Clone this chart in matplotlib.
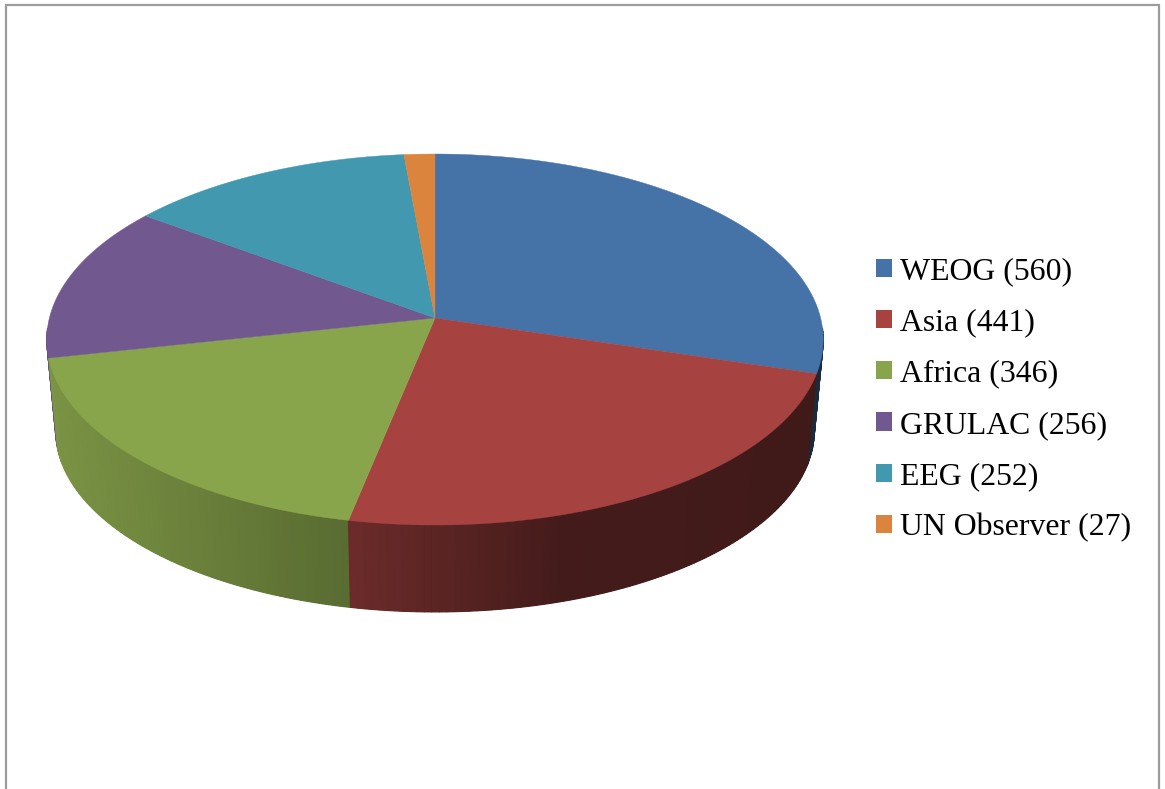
import numpy as np
import matplotlib
matplotlib.use("Agg")
import matplotlib.pyplot as plt
from matplotlib.collections import PolyCollection
from matplotlib.colors import to_rgb
from matplotlib.patches import Patch

categories = ["WEOG", "Asia", "Africa", "GRULAC", "EEG", "UN Observer"]
values = [560, 441, 346, 256, 252, 27]
colors = ["#4572A7", "#A64341", "#89A54C", "#71588F", "#4198AF", "#DB843D"]

# perspective geometry of the pie, in picture pixels
CX, CY, RX, RY, PERSP = 435.0, 318.0, 385.6, 183.0, 0.116
BOTTOM_Y, BOTTOM_SCALE = 409.7, 0.977
# darkening of the rim as a function of horizontal position
SHADE_X = [40, 53, 348, 560, 830]
SHADE_F = [0.90, 0.89, 0.65, 0.41, 0.38]


def project(theta, cy=CY, scale=1.0):
    """theta is clockwise from the top of the disc."""
    u, v = np.sin(theta), np.cos(theta)
    w = 1 + PERSP * v
    return CX + scale * RX * u / w, cy - scale * RY * v / w


fig = plt.figure(figsize=(11.65, 7.89), dpi=100, facecolor="white")
ax = fig.add_axes([0, 0, 1, 1])
ax.set_xlim(0, 1165)
ax.set_ylim(789, 0)
ax.axis("off")

# outer frame (open at the bottom of the picture)
ax.plot([6, 6, 1159, 1159], [789, 5, 5, 789], color="#9c9c9c", lw=1.6,
        solid_joinstyle="miter", zorder=1)

edges = np.cumsum([0] + values) / sum(values) * 2 * np.pi
step = np.radians(1.0)

# rim (front-facing part only): plain underlay per slice, then shaded bands
for i, base in enumerate(colors):
    n = max(int((edges[i + 1] - edges[i]) / step), 2)
    t = np.linspace(edges[i], edges[i + 1], n + 1)
    t = t[np.cos(t) < -0.05]
    if len(t) < 2:
        continue
    n = len(t) - 1
    xt, yt = project(t)
    xb, yb = project(t, BOTTOM_Y, BOTTOM_SCALE)
    depth = np.cos((t[:-1] + t[1:]) / 2)
    quads, cols = [], []
    for j in range(n):
        quads.append([(xt[j], yt[j]), (xt[j + 1], yt[j + 1]),
                      (xb[j + 1], yb[j + 1]), (xb[j], yb[j])])
        f = np.interp((xt[j] + xt[j + 1]) / 2, SHADE_X, SHADE_F)
        cols.append(tuple(c * f for c in to_rgb(base)))
    under = np.array(cols).mean(axis=0)
    ax.fill(np.r_[xt, xb[::-1]], np.r_[yt, yb[::-1]], facecolor=under,
            edgecolor="none", zorder=2 + 0.01 * (-np.cos(t.mean())))
    order = np.argsort(depth)[::-1]
    ax.add_collection(PolyCollection(
        [quads[k] for k in order],
        facecolors=[cols[k] for k in order],
        edgecolors=[cols[k] for k in order],
        linewidths=0.8, joinstyle="bevel",
        zorder=2.1 + 0.01 * (-np.cos(t.mean()))))

# top face
for i, base in enumerate(colors):
    t = np.linspace(edges[i], edges[i + 1], 300)
    x, y = project(t)
    ax.fill(np.r_[CX, x], np.r_[CY, y], facecolor=base, edgecolor=base,
            lw=0.3, zorder=3)

handles = [Patch(facecolor=c, edgecolor="none") for c in colors]
labels = [f"{c} ({v})" for c, v in zip(categories, values)]
fig.legend(handles, labels, loc="upper left", frameon=False,
           bbox_to_anchor=(876 / 1165, 1 - 257 / 789),
           prop={"family": "Liberation Serif", "size": 22.9},
           handlelength=0.5, handleheight=0.5, handletextpad=0.25,
           labelspacing=0.70, borderpad=0, borderaxespad=0)

fig.savefig("out.png", dpi=100)
